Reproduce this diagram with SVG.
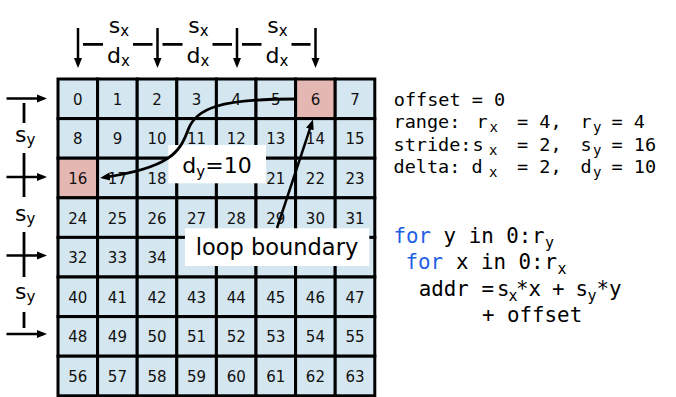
<svg xmlns="http://www.w3.org/2000/svg" width="676" height="397" viewBox="0 0 676 397">
<style>
.cell{fill:#d4e6ef;stroke:#000;stroke-width:3}
.hl{fill:#e5b7b2}
.num{font-family:'DejaVu Sans','Liberation Sans',sans-serif;font-size:15px;text-anchor:middle;fill:#111}
.lbl{font-family:'DejaVu Sans','Liberation Sans',sans-serif;font-size:22px;fill:#000}
.sub{font-size:15px}
.box{fill:#fff}
.c1{font-family:'DejaVu Sans Mono','Liberation Mono',monospace;font-size:18.5px;fill:#000;white-space:pre}
.c2{font-family:'DejaVu Sans Mono','Liberation Mono',monospace;font-size:20.8px;fill:#000;white-space:pre}
.s1{font-size:14px}
.s2{font-size:15px}
.kw{fill:#1f5fe6}
.dim{stroke:#000;stroke-width:2.8;fill:none}
.arr{stroke:#000;stroke-width:2.5;fill:none;marker-end:url(#ah)}
.crv{stroke:#000;stroke-width:2.8;fill:none;marker-end:url(#ah)}
</style>
<defs>
<marker id="ah" markerUnits="userSpaceOnUse" markerWidth="12" markerHeight="10" refX="6.5" refY="5" orient="auto">
<path d="M0,1 L10,5 L0,9 z" fill="#000"/>
</marker>
</defs>
<rect width="676" height="397" fill="#fff"/>

<g id="grid">
<g id="cell-0"><rect class="cell" x="58" y="79" width="39.6" height="39.6"/><text class="num" x="77.8" y="104.8">0</text></g>
<g id="cell-1"><rect class="cell" x="97.6" y="79" width="39.6" height="39.6"/><text class="num" x="117.4" y="104.8">1</text></g>
<g id="cell-2"><rect class="cell" x="137.2" y="79" width="39.6" height="39.6"/><text class="num" x="157" y="104.8">2</text></g>
<g id="cell-3"><rect class="cell" x="176.8" y="79" width="39.6" height="39.6"/><text class="num" x="196.6" y="104.8">3</text></g>
<g id="cell-4"><rect class="cell" x="216.4" y="79" width="39.6" height="39.6"/><text class="num" x="236.2" y="104.8">4</text></g>
<g id="cell-5"><rect class="cell" x="256" y="79" width="39.6" height="39.6"/><text class="num" x="275.8" y="104.8">5</text></g>
<g id="cell-6"><rect class="cell hl" x="295.6" y="79" width="39.6" height="39.6"/><text class="num" x="315.4" y="104.8">6</text></g>
<g id="cell-7"><rect class="cell" x="335.2" y="79" width="39.6" height="39.6"/><text class="num" x="355" y="104.8">7</text></g>

<g id="cell-8"><rect class="cell" x="58" y="118.6" width="39.6" height="39.6"/><text class="num" x="77.8" y="144.4">8</text></g>
<g id="cell-9"><rect class="cell" x="97.6" y="118.6" width="39.6" height="39.6"/><text class="num" x="117.4" y="144.4">9</text></g>
<g id="cell-10"><rect class="cell" x="137.2" y="118.6" width="39.6" height="39.6"/><text class="num" x="157" y="144.4">10</text></g>
<g id="cell-11"><rect class="cell" x="176.8" y="118.6" width="39.6" height="39.6"/><text class="num" x="196.6" y="144.4">11</text></g>
<g id="cell-12"><rect class="cell" x="216.4" y="118.6" width="39.6" height="39.6"/><text class="num" x="236.2" y="144.4">12</text></g>
<g id="cell-13"><rect class="cell" x="256" y="118.6" width="39.6" height="39.6"/><text class="num" x="275.8" y="144.4">13</text></g>
<g id="cell-14"><rect class="cell" x="295.6" y="118.6" width="39.6" height="39.6"/><text class="num" x="315.4" y="144.4">14</text></g>
<g id="cell-15"><rect class="cell" x="335.2" y="118.6" width="39.6" height="39.6"/><text class="num" x="355" y="144.4">15</text></g>

<g id="cell-16"><rect class="cell hl" x="58" y="158.2" width="39.6" height="39.6"/><text class="num" x="77.8" y="184">16</text></g>
<g id="cell-17"><rect class="cell" x="97.6" y="158.2" width="39.6" height="39.6"/><text class="num" x="117.4" y="184">17</text></g>
<g id="cell-18"><rect class="cell" x="137.2" y="158.2" width="39.6" height="39.6"/><text class="num" x="157" y="184">18</text></g>
<g id="cell-19"><rect class="cell" x="176.8" y="158.2" width="39.6" height="39.6"/></g>
<g id="cell-20"><rect class="cell" x="216.4" y="158.2" width="39.6" height="39.6"/></g>
<g id="cell-21"><rect class="cell" x="256" y="158.2" width="39.6" height="39.6"/><text class="num" x="275.8" y="184">21</text></g>
<g id="cell-22"><rect class="cell" x="295.6" y="158.2" width="39.6" height="39.6"/><text class="num" x="315.4" y="184">22</text></g>
<g id="cell-23"><rect class="cell" x="335.2" y="158.2" width="39.6" height="39.6"/><text class="num" x="355" y="184">23</text></g>

<g id="cell-24"><rect class="cell" x="58" y="197.8" width="39.6" height="39.6"/><text class="num" x="77.8" y="223.6">24</text></g>
<g id="cell-25"><rect class="cell" x="97.6" y="197.8" width="39.6" height="39.6"/><text class="num" x="117.4" y="223.6">25</text></g>
<g id="cell-26"><rect class="cell" x="137.2" y="197.8" width="39.6" height="39.6"/><text class="num" x="157" y="223.6">26</text></g>
<g id="cell-27"><rect class="cell" x="176.8" y="197.8" width="39.6" height="39.6"/><text class="num" x="196.6" y="223.6">27</text></g>
<g id="cell-28"><rect class="cell" x="216.4" y="197.8" width="39.6" height="39.6"/><text class="num" x="236.2" y="223.6">28</text></g>
<g id="cell-29"><rect class="cell" x="256" y="197.8" width="39.6" height="39.6"/><text class="num" x="275.8" y="223.6">29</text></g>
<g id="cell-30"><rect class="cell" x="295.6" y="197.8" width="39.6" height="39.6"/><text class="num" x="315.4" y="223.6">30</text></g>
<g id="cell-31"><rect class="cell" x="335.2" y="197.8" width="39.6" height="39.6"/><text class="num" x="355" y="223.6">31</text></g>

<g id="cell-32"><rect class="cell" x="58" y="237.4" width="39.6" height="39.6"/><text class="num" x="77.8" y="263.2">32</text></g>
<g id="cell-33"><rect class="cell" x="97.6" y="237.4" width="39.6" height="39.6"/><text class="num" x="117.4" y="263.2">33</text></g>
<g id="cell-34"><rect class="cell" x="137.2" y="237.4" width="39.6" height="39.6"/><text class="num" x="157" y="263.2">34</text></g>
<g id="cell-35"><rect class="cell" x="176.8" y="237.4" width="39.6" height="39.6"/></g>
<g id="cell-36"><rect class="cell" x="216.4" y="237.4" width="39.6" height="39.6"/></g>
<g id="cell-37"><rect class="cell" x="256" y="237.4" width="39.6" height="39.6"/></g>
<g id="cell-38"><rect class="cell" x="295.6" y="237.4" width="39.6" height="39.6"/></g>
<g id="cell-39"><rect class="cell" x="335.2" y="237.4" width="39.6" height="39.6"/></g>

<g id="cell-40"><rect class="cell" x="58" y="277" width="39.6" height="39.6"/><text class="num" x="77.8" y="302.8">40</text></g>
<g id="cell-41"><rect class="cell" x="97.6" y="277" width="39.6" height="39.6"/><text class="num" x="117.4" y="302.8">41</text></g>
<g id="cell-42"><rect class="cell" x="137.2" y="277" width="39.6" height="39.6"/><text class="num" x="157" y="302.8">42</text></g>
<g id="cell-43"><rect class="cell" x="176.8" y="277" width="39.6" height="39.6"/><text class="num" x="196.6" y="302.8">43</text></g>
<g id="cell-44"><rect class="cell" x="216.4" y="277" width="39.6" height="39.6"/><text class="num" x="236.2" y="302.8">44</text></g>
<g id="cell-45"><rect class="cell" x="256" y="277" width="39.6" height="39.6"/><text class="num" x="275.8" y="302.8">45</text></g>
<g id="cell-46"><rect class="cell" x="295.6" y="277" width="39.6" height="39.6"/><text class="num" x="315.4" y="302.8">46</text></g>
<g id="cell-47"><rect class="cell" x="335.2" y="277" width="39.6" height="39.6"/><text class="num" x="355" y="302.8">47</text></g>

<g id="cell-48"><rect class="cell" x="58" y="316.6" width="39.6" height="39.6"/><text class="num" x="77.8" y="342.4">48</text></g>
<g id="cell-49"><rect class="cell" x="97.6" y="316.6" width="39.6" height="39.6"/><text class="num" x="117.4" y="342.4">49</text></g>
<g id="cell-50"><rect class="cell" x="137.2" y="316.6" width="39.6" height="39.6"/><text class="num" x="157" y="342.4">50</text></g>
<g id="cell-51"><rect class="cell" x="176.8" y="316.6" width="39.6" height="39.6"/><text class="num" x="196.6" y="342.4">51</text></g>
<g id="cell-52"><rect class="cell" x="216.4" y="316.6" width="39.6" height="39.6"/><text class="num" x="236.2" y="342.4">52</text></g>
<g id="cell-53"><rect class="cell" x="256" y="316.6" width="39.6" height="39.6"/><text class="num" x="275.8" y="342.4">53</text></g>
<g id="cell-54"><rect class="cell" x="295.6" y="316.6" width="39.6" height="39.6"/><text class="num" x="315.4" y="342.4">54</text></g>
<g id="cell-55"><rect class="cell" x="335.2" y="316.6" width="39.6" height="39.6"/><text class="num" x="355" y="342.4">55</text></g>

<g id="cell-56"><rect class="cell" x="58" y="356.2" width="39.6" height="39.6"/><text class="num" x="77.8" y="382">56</text></g>
<g id="cell-57"><rect class="cell" x="97.6" y="356.2" width="39.6" height="39.6"/><text class="num" x="117.4" y="382">57</text></g>
<g id="cell-58"><rect class="cell" x="137.2" y="356.2" width="39.6" height="39.6"/><text class="num" x="157" y="382">58</text></g>
<g id="cell-59"><rect class="cell" x="176.8" y="356.2" width="39.6" height="39.6"/><text class="num" x="196.6" y="382">59</text></g>
<g id="cell-60"><rect class="cell" x="216.4" y="356.2" width="39.6" height="39.6"/><text class="num" x="236.2" y="382">60</text></g>
<g id="cell-61"><rect class="cell" x="256" y="356.2" width="39.6" height="39.6"/><text class="num" x="275.8" y="382">61</text></g>
<g id="cell-62"><rect class="cell" x="295.6" y="356.2" width="39.6" height="39.6"/><text class="num" x="315.4" y="382">62</text></g>
<g id="cell-63"><rect class="cell" x="335.2" y="356.2" width="39.6" height="39.6"/><text class="num" x="355" y="382">63</text></g>
</g>

<g id="dy-label">
<rect class="box" x="168.3" y="145" width="97.7" height="38.3"/>
<text class="lbl" x="217" y="173.3" text-anchor="middle">d<tspan class="sub" dy="4">y</tspan><tspan dy="-4">=10</tspan></text>
</g>

<g id="loop-label">
<rect class="box" x="185" y="228.3" width="184.3" height="37.7"/>
<text class="lbl" x="277" y="255" text-anchor="middle" style="font-size:22.5px">loop boundary</text>
</g>

<g id="connectors">
<path class="crv" d="M296,99 C220,99 196,108 188,130 C180,152 170,168 103.5,177.5"/>
<path class="arr" d="M277,228 L311.9,122.8"/>
<line class="arr" x1="78" y1="28" x2="78" y2="64.5"/>
<line class="arr" x1="157.5" y1="28" x2="157.5" y2="64.5"/>
<line class="arr" x1="237" y1="28" x2="237" y2="64.5"/>
<line class="arr" x1="315.5" y1="28" x2="315.5" y2="64.5"/>
<path class="dim" d="M83,44.3 H103 M133,44.3 H152.5 M162.5,44.3 H182.5 M212.5,44.3 H232 M242,44.3 H261.5 M291.5,44.3 H310.5"/>
<line class="arr" x1="6.5" y1="98.5" x2="43.5" y2="98.5"/>
<line class="arr" x1="6.5" y1="177" x2="43.5" y2="177"/>
<line class="arr" x1="6.5" y1="255.5" x2="43.5" y2="255.5"/>
<line class="arr" x1="6.5" y1="334" x2="43.5" y2="334"/>
<path class="dim" d="M24,103 V123 M24,153 V197 M24,232 V277 M24,312 V328"/>
</g>

<g id="dim-labels">
<text class="lbl" x="119" y="33.3" text-anchor="middle">s<tspan class="sub" dy="2.5">x</tspan></text>
<text class="lbl" x="118.5" y="63.3" text-anchor="middle">d<tspan class="sub" dy="2.5">x</tspan></text>
<text class="lbl" x="198.5" y="33.3" text-anchor="middle">s<tspan class="sub" dy="2.5">x</tspan></text>
<text class="lbl" x="198" y="63.3" text-anchor="middle">d<tspan class="sub" dy="2.5">x</tspan></text>
<text class="lbl" x="277.5" y="33.3" text-anchor="middle">s<tspan class="sub" dy="2.5">x</tspan></text>
<text class="lbl" x="277" y="63.3" text-anchor="middle">d<tspan class="sub" dy="2.5">x</tspan></text>
<text class="lbl" x="15" y="142.3">s<tspan class="sub" dy="3">y</tspan></text>
<text class="lbl" x="15" y="220.6">s<tspan class="sub" dy="3">y</tspan></text>
<text class="lbl" x="15" y="299">s<tspan class="sub" dy="3">y</tspan></text>
</g>

<g id="params">
<text class="c1" y="105.5"><tspan x="393.8">offset = 0</tspan></text>
<text class="c1" y="128"><tspan x="393.5">range:</tspan><tspan x="476.5">r</tspan><tspan class="s1" x="489.5" y="132">x</tspan><tspan x="517" y="128">= 4,</tspan><tspan x="580.5">r</tspan><tspan class="s1" x="593" y="132">y</tspan><tspan x="611.5" y="128">= 4</tspan></text>
<text class="c1" y="150.5"><tspan x="393.5">stride:</tspan><tspan x="472.5">s</tspan><tspan class="s1" x="489" y="154.5">x</tspan><tspan x="517" y="150.5">= 2,</tspan><tspan x="580.5">s</tspan><tspan class="s1" x="593" y="154.5">y</tspan><tspan x="611.5" y="150.5">= 16</tspan></text>
<text class="c1" y="172.5"><tspan x="393.5">delta:</tspan><tspan x="471.5">d</tspan><tspan class="s1" x="489" y="176.5">x</tspan><tspan x="517" y="172.5">= 2,</tspan><tspan x="580.5">d</tspan><tspan class="s1" x="593" y="176.5">y</tspan><tspan x="611.5" y="172.5">= 10</tspan></text>
</g>

<g id="code">
<text class="c2" y="242.5"><tspan class="kw" x="393.5">for</tspan><tspan x="443.6">y in 0:</tspan><tspan x="532">r</tspan><tspan class="s2" x="545" y="247.5">y</tspan></text>
<text class="c2" y="269"><tspan class="kw" x="405.5">for</tspan><tspan x="456">x in 0:</tspan><tspan x="544.5">r</tspan><tspan class="s2" x="557.5" y="274">x</tspan></text>
<text class="c2" y="295.5"><tspan x="418.8">addr =</tspan><tspan x="497">s</tspan><tspan class="s2" x="508.5" y="300.5">x</tspan><tspan x="516" y="295.5">*x</tspan><tspan x="552">+</tspan><tspan x="575.5">s</tspan><tspan class="s2" x="587.5" y="300.5">y</tspan><tspan x="596.5" y="295.5">*y</tspan></text>
<text class="c2" y="322"><tspan x="482">+ offset</tspan></text>
</g>
</svg>
